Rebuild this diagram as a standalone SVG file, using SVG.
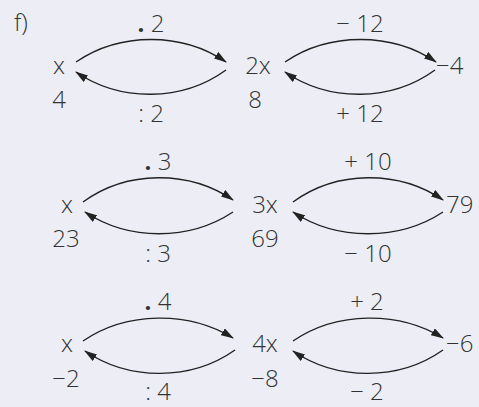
<svg xmlns="http://www.w3.org/2000/svg" width="479" height="407" viewBox="0 0 479 407">
<style>
text{font-family:"Open Sans","Noto Sans",sans-serif;font-size:24px;fill:#333;font-weight:300;}
.m{text-anchor:middle;}
.a{fill:none;stroke:#222;stroke-width:1.4;marker-end:url(#ah);}
</style>
<defs>
<marker id="ah" viewBox="0 0 13 8" refX="12" refY="4" markerWidth="13" markerHeight="8" markerUnits="userSpaceOnUse" orient="auto">
<path d="M0,0 L13,4 L0,8 Z" fill="#222"/>
</marker>
</defs>
<rect width="479" height="407" fill="#EDEEF5"/>
<text x="14" y="31">f)</text>
<g id="row1">
<g id="n1x"><text class="m" x="59" y="74">x</text><text class="m" x="59" y="108">4</text></g>
<g id="n12x"><text class="m" x="258" y="74">2x</text><text class="m" x="255" y="108">8</text></g>
<g id="n1r"><text x="436" y="74">−4</text></g>
</g>
<g id="row2">
<g id="n2x"><text class="m" x="67" y="213">x</text><text class="m" x="66" y="247">23</text></g>
<g id="n23x"><text class="m" x="265" y="213">3x</text><text class="m" x="265" y="247">69</text></g>
<g id="n2r"><text x="446" y="213">79</text></g>
</g>
<g id="row3">
<g id="n3x"><text class="m" x="67" y="352">x</text><text class="m" x="66" y="387">−2</text></g>
<g id="n34x"><text class="m" x="265" y="352">4x</text><text class="m" x="265" y="387">−8</text></g>
<g id="n3r"><text x="446" y="352">−6</text></g>
</g>
<g id="connectors">
<path class="a" d="M76,62 C120,32 182,32 226,62"/>
<path class="a" d="M226,70 C182,102 120,102 76,72"/>
<path class="a" d="M285,62 C329,32 392,32 436,62"/>
<path class="a" d="M435,70 C391,102 329,102 285,72"/>
<path class="a" d="M83,202 C127,170 189,170 233,200"/>
<path class="a" d="M233,212 C189,241 129,241 85,212"/>
<path class="a" d="M293,202 C337,170 399,170 443,200"/>
<path class="a" d="M443,212 C399,241 337,241 293,212"/>
<path class="a" d="M83,341 C127,311 189,311 233,338"/>
<path class="a" d="M235,350 C191,381 129,381 85,351"/>
<path class="a" d="M293,341 C337,311 399,311 443,338"/>
<path class="a" d="M443,350 C399,381 337,381 293,351"/>
<text class="m" x="151" y="32"><tspan font-weight="bold">.</tspan> 2</text>
<text class="m" x="151" y="122">: 2</text>
<text class="m" x="360" y="32">− 12</text>
<text class="m" x="360" y="122">+ 12</text>
<text class="m" x="158" y="170"><tspan font-weight="bold">.</tspan> 3</text>
<text class="m" x="158" y="262">: 3</text>
<text class="m" x="368" y="170">+ 10</text>
<text class="m" x="368" y="262">− 10</text>
<text class="m" x="158" y="310"><tspan font-weight="bold">.</tspan> 4</text>
<text class="m" x="158" y="400">: 4</text>
<text class="m" x="367" y="310">+ 2</text>
<text class="m" x="367" y="400">− 2</text>
</g>
</svg>
